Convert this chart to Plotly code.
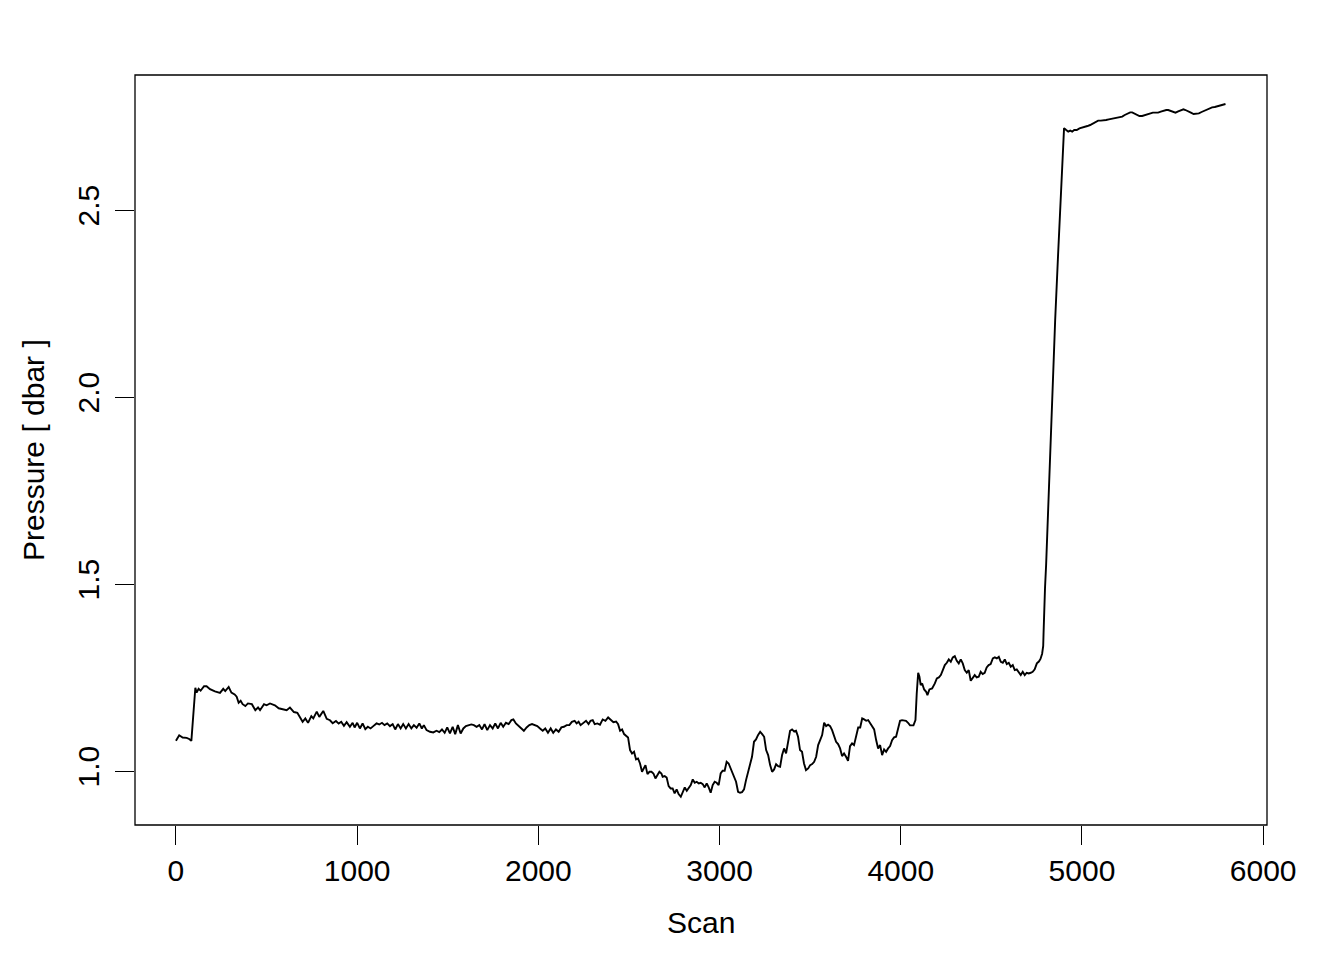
import plotly.graph_objects as go

# Scan index and pressure (dbar)
scan = [
    0, 18, 37, 59, 73, 85, 107, 114, 125, 136, 155, 169, 188, 215, 243, 261, 272, 291, 306, 324,
    335, 346, 357, 368, 383, 397, 419, 438, 453, 464, 486, 500, 519, 546, 567, 592, 611, 629, 651, 670,
    684, 699, 714, 729, 747, 758, 777, 791, 813, 832, 850, 865, 883, 898, 912, 927, 942,
    960, 975, 986, 1000, 1015, 1030, 1045, 1059, 1074, 1089, 1107, 1122, 1137, 1151, 1166, 1181, 1196,
    1210, 1225, 1240, 1254, 1269, 1284, 1299, 1313, 1328, 1343, 1357, 1368, 1383, 1402, 1420, 1438,
    1453, 1468, 1483, 1497, 1512, 1527, 1541, 1556, 1571, 1586, 1600, 1615, 1630, 1644, 1659, 1674,
    1689, 1703, 1718, 1733, 1748, 1762, 1777, 1792, 1806, 1821, 1836, 1851, 1862, 1876, 1891, 1906,
    1920, 1935, 1950, 1965, 1979, 1994, 2009, 2024, 2038, 2053, 2068, 2082, 2097, 2112, 2127, 2141,
    2156, 2171, 2185, 2200, 2211, 2222, 2233, 2248, 2263, 2277, 2288,
    2300, 2311, 2326, 2340, 2355, 2370, 2385, 2399, 2414, 2429, 2440, 2451, 2462, 2473, 2484, 2495,
    2506, 2517, 2528, 2539, 2550, 2561, 2572, 2583, 2591, 2602, 2613, 2624, 2635, 2646, 2657, 2668,
    2679, 2686, 2697, 2708, 2719, 2730, 2741, 2752, 2763, 2774, 2786, 2797, 2808, 2819, 2830, 2841,
    2852, 2863, 2874, 2885, 2896, 2907, 2918, 2929, 2940, 2951, 2962, 2973, 2984, 2995, 3006, 3017,
    3028, 3039, 3050,
    3069, 3080, 3091, 3102, 3113, 3124, 3135, 3146, 3157, 3168, 3179, 3190, 3201, 3212, 3224, 3235,
    3246, 3257, 3268, 3279, 3290, 3301, 3312, 3323, 3334, 3345, 3356, 3367, 3378, 3389, 3400, 3411,
    3422, 3433, 3444, 3455, 3466, 3477, 3489, 3500, 3511, 3522, 3533, 3544, 3555, 3566, 3577, 3588,
    3599, 3610, 3621, 3632, 3643, 3654, 3665, 3676, 3687, 3698, 3709, 3720, 3731, 3742, 3753, 3765,
    3776, 3787, 3798, 3809, 3820, 3831, 3842, 3853, 3864, 3875, 3886, 3897, 3908, 3919, 3930, 3941,
    3952, 3963, 3974, 3985, 3996, 4007, 4018, 4029, 4040, 4051,
    4070, 4081, 4088, 4096, 4103, 4110, 4118, 4129, 4140, 4147, 4158, 4173, 4188, 4199, 4210, 4221,
    4232, 4243, 4254, 4265, 4276, 4287, 4298, 4309, 4320, 4331, 4342, 4353, 4364, 4375, 4386, 4397,
    4408, 4419, 4430, 4441, 4452, 4463, 4474, 4485, 4496, 4508, 4519, 4530, 4541, 4552, 4563, 4574,
    4585, 4596, 4607, 4618, 4629, 4640, 4651, 4662, 4673, 4684, 4695, 4706, 4717, 4728,
    4739, 4751, 4762, 4771, 4780, 4786, 4788, 4791, 4796, 4802, 4813, 4824, 4837, 4852, 4868, 4885,
    4896, 4901,
    4913, 4924, 4935, 4946, 4957, 4971, 4986, 5001, 5016, 5030, 5045, 5060, 5074, 5089, 5104, 5119,
    5133, 5148, 5163, 5178, 5192, 5207, 5222, 5236, 5251, 5266, 5277, 5288, 5303, 5317, 5332, 5347,
    5362, 5376, 5391, 5406, 5420, 5435, 5450, 5465, 5476, 5487, 5501, 5516, 5531, 5546, 5560, 5571,
    5586, 5601, 5616, 5630, 5645, 5660, 5674, 5689, 5704, 5718, 5733, 5748, 5763, 5777, 5792,
]

pressure = [
    1.081, 1.096, 1.090, 1.089, 1.086, 1.081, 1.223, 1.210, 1.220, 1.215, 1.227, 1.227, 1.219, 1.213, 1.209, 1.220, 1.214, 1.225, 1.210, 1.205,
    1.199, 1.183, 1.188, 1.179, 1.174, 1.181, 1.179, 1.163, 1.170, 1.163, 1.179, 1.176, 1.181, 1.176, 1.168, 1.166, 1.163, 1.170, 1.158, 1.156,
    1.144, 1.132, 1.141, 1.129, 1.147, 1.141, 1.159, 1.145, 1.161, 1.140, 1.136, 1.128, 1.134, 1.127, 1.132, 1.121, 1.131,
    1.1186, 1.1292, 1.1168, 1.1292, 1.1141, 1.1275, 1.1123, 1.1186, 1.1141, 1.1203, 1.1275, 1.1248, 1.1292, 1.1230, 1.1275, 1.1203, 1.1257,
    1.1114, 1.1257, 1.1141, 1.1257, 1.1141, 1.1257, 1.1141, 1.1230, 1.1159, 1.1275, 1.1141, 1.1230, 1.1097, 1.1052, 1.1034, 1.1079,
    1.1043, 1.1114, 1.1025, 1.1168, 1.1007, 1.1186, 1.0990, 1.1230, 1.1007, 1.1141, 1.1203, 1.1230, 1.1248, 1.1230, 1.1186, 1.1230,
    1.1114, 1.1257, 1.1097, 1.1230, 1.1141, 1.1275, 1.1141, 1.1292, 1.1186, 1.1292, 1.1257, 1.1364, 1.1382, 1.1275, 1.1203, 1.1141,
    1.1079, 1.1168, 1.1230, 1.1257, 1.1230, 1.1203, 1.1141, 1.1079, 1.1141, 1.1025, 1.1141, 1.1025, 1.1114, 1.1052, 1.1168, 1.1186,
    1.1230, 1.1230, 1.1319, 1.1346, 1.1275, 1.1319, 1.1230, 1.1292, 1.1346, 1.1257, 1.1346,
    1.1364, 1.1257, 1.1275, 1.1239, 1.1382, 1.1346, 1.1435, 1.1364, 1.1310, 1.1328, 1.1257, 1.1079, 1.1114, 1.0990, 1.0936, 1.0901,
    1.0562, 1.0473, 1.0517, 1.0312, 1.0339, 1.0205, 0.9983, 1.0072, 1.0161, 0.9920, 0.9983, 0.9983, 0.9938, 0.9805, 0.9894, 0.9983,
    0.9938, 0.9849, 0.9867, 0.9831, 0.9600, 0.9537, 0.9537, 0.9404, 0.9511, 0.9386, 0.9315, 0.9421, 0.9564, 0.9475, 0.9564, 0.9626,
    0.9778, 0.9689, 0.9716, 0.9671, 0.9689, 0.9653, 0.9564, 0.9671, 0.9564, 0.9421, 0.9626, 0.9716, 0.9689, 0.9626, 0.9938, 1.0009,
    1.0009, 1.0250, 1.0205,
    0.9983, 0.9894, 0.9716, 0.9449, 0.9422, 0.9440, 0.9511, 0.9760, 0.9983, 1.0206, 1.0384, 1.0785, 1.0848, 1.0963, 1.1052, 1.0990,
    1.0919, 1.0563, 1.0429, 1.0161, 0.9983, 1.0046, 1.0188, 1.0135, 1.0117, 1.0429, 1.0607, 1.0473, 1.0785, 1.1079, 1.1115, 1.1061,
    1.1079, 1.0919, 1.0563, 1.0518, 1.0206, 1.0028, 1.0072, 1.0161, 1.0188, 1.0251, 1.0384, 1.0696, 1.0830, 1.0963, 1.1293, 1.1204,
    1.1240, 1.1204, 1.1097, 1.0919, 1.0785, 1.0723, 1.0607, 1.0402, 1.0473, 1.0384, 1.0277, 1.0669, 1.0741, 1.0696, 1.0963, 1.1168,
    1.1168, 1.1409, 1.1382, 1.1346, 1.1364, 1.1275, 1.1168, 1.1115, 1.0830, 1.0607, 1.0696, 1.0429, 1.0580, 1.0518, 1.0607, 1.0669,
    1.0830, 1.0901, 1.0919, 1.1168, 1.1346, 1.1364, 1.1364, 1.1346, 1.1293, 1.1222,
    1.1222, 1.1364, 1.2077, 1.2630, 1.2523, 1.2300, 1.2344, 1.2184, 1.2122, 1.2033, 1.2184, 1.2211, 1.2344, 1.2478, 1.2505, 1.2567,
    1.2701, 1.2835, 1.2897, 1.2986, 1.2924, 1.3040, 1.3075, 1.2950, 1.2879, 1.2986, 1.2879, 1.2701, 1.2630, 1.2701, 1.2416, 1.2478,
    1.2567, 1.2505, 1.2523, 1.2656, 1.2594, 1.2630, 1.2772, 1.2835, 1.2861, 1.3013, 1.3040, 1.3013, 1.3057, 1.2924, 1.2897, 1.2986,
    1.2861, 1.2897, 1.2790, 1.2835, 1.2701, 1.2719, 1.2630, 1.2567, 1.2656, 1.2567, 1.2630, 1.2612, 1.2630, 1.2656,
    1.272, 1.288, 1.293, 1.300, 1.314, 1.335, 1.370, 1.430, 1.490, 1.551, 1.698, 1.845, 2.032, 2.206, 2.380, 2.554,
    2.674, 2.719,
    2.7139, 2.7095, 2.7122, 2.7095, 2.7139, 2.7139, 2.7184, 2.7202, 2.7211, 2.7246, 2.7273, 2.7318, 2.7362, 2.7389, 2.7389, 2.7389,
    2.7407, 2.7425, 2.7442, 2.7451, 2.7469, 2.7496, 2.7496, 2.7540, 2.7585, 2.7612, 2.7612, 2.7585, 2.7540, 2.7514, 2.7514, 2.7540,
    2.7567, 2.7585, 2.7603, 2.7603, 2.7603, 2.7629, 2.7656, 2.7674, 2.7674, 2.7656, 2.7629, 2.7603, 2.7638, 2.7674, 2.7692, 2.7674,
    2.7629, 2.7603, 2.7567, 2.7567, 2.7585, 2.7621, 2.7656, 2.7692, 2.7719, 2.7745, 2.7754, 2.7772, 2.7790, 2.7808, 2.7834,
]

x_ticks = [0, 1000, 2000, 3000, 4000, 5000, 6000]
y_ticks = [1.0, 1.5, 2.0, 2.5]
x_title = "Scan"
y_title = "Pressure [ dbar ]"

FONT = "Liberation Sans, Arial, Helvetica, sans-serif"

fig = go.Figure()
fig.add_trace(go.Scatter(
    x=scan, y=pressure, mode="lines",
    line=dict(color="black", width=1.9),
    showlegend=False, hoverinfo="x+y",
))

fig.update_layout(
    width=1336, height=952,
    margin=dict(l=127, r=77, t=67, b=135),
    paper_bgcolor="white", plot_bgcolor="white",
    font=dict(family=FONT, size=30, color="black"),
    xaxis=dict(
        range=[-226, 6021], tickvals=x_ticks, ticktext=[str(v) for v in x_ticks],
        ticks="outside", ticklen=19, tickwidth=1.3, tickcolor="black",
        showgrid=False, zeroline=False, showline=False,
        tickfont=dict(family=FONT, size=30, color="black"),
        ticklabelstandoff=0,
    ),
    yaxis=dict(
        range=[0.856, 2.861], tickvals=y_ticks, ticktext=[f"{v:.1f}" for v in y_ticks],
        ticks="outside", ticklen=19, tickwidth=1.3, tickcolor="black",
        showgrid=False, zeroline=False, showline=False, tickangle=-90,
        tickfont=dict(family=FONT, size=30, color="black"),
        ticklabelstandoff=4,
    ),
    shapes=[dict(type="rect", xref="paper", yref="paper", x0=0, y0=0, x1=1, y1=1,
                 line=dict(color="black", width=1.3), fillcolor="rgba(0,0,0,0)")],
    annotations=[
        dict(text=x_title, xref="paper", yref="paper", x=0.5, y=0, xanchor="center",
             yanchor="middle", yshift=-97, showarrow=False,
             font=dict(family=FONT, size=30, color="black")),
        dict(text=y_title, xref="paper", yref="paper", x=0, y=0.5, xanchor="center",
             yanchor="middle", xshift=-102, textangle=-90, showarrow=False,
             font=dict(family=FONT, size=30, color="black")),
    ],
)

fig.write_html("out.html")
